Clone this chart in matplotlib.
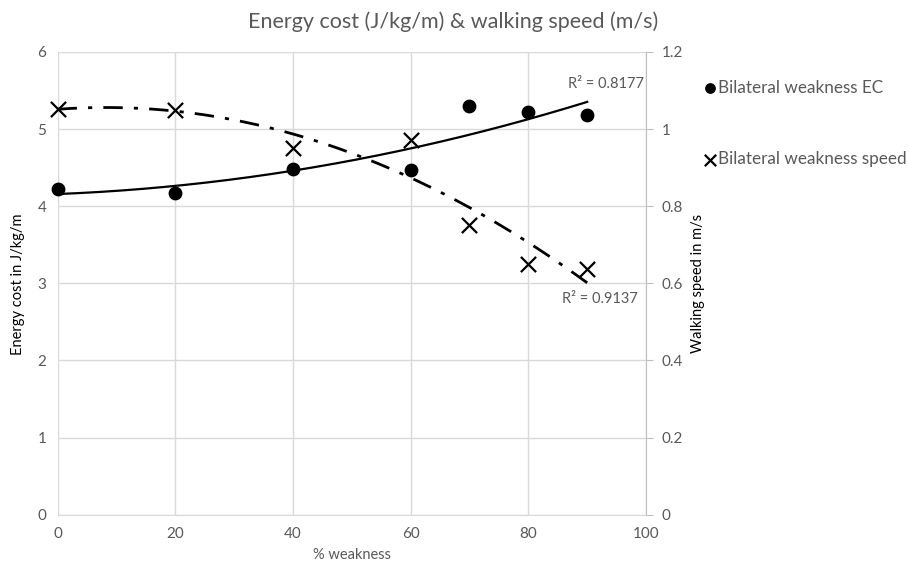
import numpy as np
import matplotlib
matplotlib.use('Agg')
import matplotlib.pyplot as plt

plt.rcParams['font.family'] = ['Lato', 'DejaVu Sans']

# data
weakness = [0, 20, 40, 60, 70, 80, 90]
energy_cost = [4.22, 4.17, 4.48, 4.47, 5.30, 5.22, 5.18]
walk_speed = [1.053, 1.049, 0.952, 0.971, 0.751, 0.651, 0.636]
r2_ec = 'R² = 0.8177'
r2_speed = 'R² = 0.9137'

grey = '#595959'
grid_c = '#d9d9d9'

fig = plt.figure(figsize=(9.09, 5.68), dpi=100)
ax = fig.add_axes([0.0633, 0.0938, 0.6474, 0.8147])
ax2 = ax.twinx()

# polynomial (order 2) trendlines, like excel
xs = np.linspace(0, 90, 200)
p_ec = np.polyfit(weakness, energy_cost, 2)
p_sp = np.polyfit(weakness, walk_speed, 2)

ax.plot(xs, np.polyval(p_ec, xs), color='black', lw=1.6, zorder=3)
ec_pts = ax.scatter(weakness, energy_cost, s=80, color='black', marker='o',
                    zorder=4, clip_on=False, label='Bilateral weakness EC')
ax2.plot(xs, np.polyval(p_sp, xs), color='black', lw=2.0,
         dashes=(7, 4, 1.5, 4), zorder=3)
sp_pts = ax2.scatter(weakness, walk_speed, s=120, color='black', marker='x',
                     linewidths=1.6, zorder=4, clip_on=False,
                     label='Bilateral weakness speed')

ax.set_xlim(0, 100)
ax.set_ylim(0, 6)
ax2.set_ylim(0, 1.2)
ax.set_xticks(range(0, 101, 20))
ax.set_yticks(range(0, 7))
ax2.set_yticks([0, 0.2, 0.4, 0.6, 0.8, 1, 1.2])
ax2.set_yticklabels(['0', '0.2', '0.4', '0.6', '0.8', '1', '1.2'])

ax.grid(True, color=grid_c, lw=1)
ax.set_axisbelow(True)
for a in (ax, ax2):
    for s in ('top', 'left', 'right'):
        a.spines[s].set_visible(False)
    a.spines['bottom'].set_color(grid_c)
ax2.spines['right'].set_visible(True)
ax2.spines['right'].set_color('#bfbfbf')
ax2.spines['bottom'].set_visible(False)

ax.tick_params(axis='both', length=0, labelsize=11, labelcolor=grey, pad=8)
ax.tick_params(axis='x', pad=9)
ax2.tick_params(axis='y', length=5, color='#bfbfbf', labelsize=11,
                labelcolor=grey, pad=6)

ax.set_xlabel('% weakness', fontsize=10.5, color=grey, labelpad=5)
fig.text(0.02, 0.499, 'Energy cost in J/kg/m', rotation=90, fontsize=10.5,
         ha='center', va='center', color='black')
fig.text(0.768, 0.501, 'Walking speed in m/s', rotation=90, fontsize=10.5,
         ha='center', va='center', color='black')

ax.text(99.7, 5.59, r2_ec, ha='right', va='center', fontsize=10.5, color=grey)
ax.text(98.6, 2.80, r2_speed, ha='right', va='center', fontsize=10.5, color=grey)

fig.text(0.498, 0.962, 'Energy cost (J/kg/m) & walking speed (m/s)',
         ha='center', va='center', fontsize=15.5, color=grey)

fig.legend(handles=[ec_pts, sp_pts], loc='upper left',
           bbox_to_anchor=(0.762, 0.875), frameon=False, fontsize=12.3,
           labelcolor=grey, handletextpad=0.0, labelspacing=3.25,
           markerscale=0.75, handlelength=1.0, borderpad=0)

fig.savefig('out.png', dpi=100)
